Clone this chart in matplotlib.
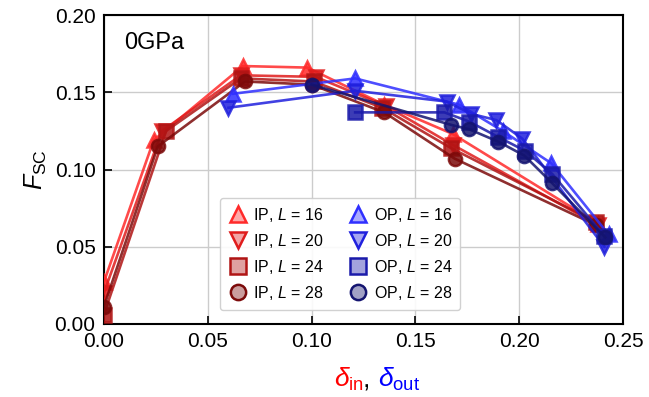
import numpy as np
import matplotlib
matplotlib.use("Agg")
import matplotlib.pyplot as plt
from matplotlib.lines import Line2D
from matplotlib.colors import to_rgba

plt.rcParams["font.family"] = ["Liberation Sans", "DejaVu Sans"]
plt.rcParams["mathtext.fontset"] = "custom"
plt.rcParams["mathtext.rm"] = "Liberation Sans"
plt.rcParams["mathtext.it"] = "Liberation Sans:italic"
plt.rcParams["mathtext.bf"] = "Liberation Sans:bold"

# in-plane (IP) delta_in, F_SC per system size
ip_x_16 = [0.000, 0.024, 0.067, 0.098, 0.135, 0.168, 0.238]
ip_y_16 = [0.027, 0.119, 0.167, 0.166, 0.142, 0.123, 0.065]
ip_x_20 = [0.000, 0.028, 0.066, 0.102, 0.136, 0.168, 0.238]
ip_y_20 = [0.020, 0.125, 0.161, 0.160, 0.141, 0.116, 0.064]
ip_x_24 = [0.000, 0.030, 0.066, 0.101, 0.134, 0.167, 0.237]
ip_y_24 = [0.006, 0.125, 0.159, 0.157, 0.140, 0.114, 0.066]
ip_x_28 = [0.000, 0.026, 0.068, 0.100, 0.135, 0.169, 0.237]
ip_y_28 = [0.011, 0.115, 0.157, 0.155, 0.137, 0.107, 0.064]

# out-of-plane (OP) delta_out, F_SC per system size
op_x_16 = [0.062, 0.121, 0.171, 0.192, 0.2155, 0.243]
op_y_16 = [0.149, 0.159, 0.142, 0.125, 0.104, 0.058]
op_x_20 = [0.060, 0.121, 0.165, 0.177, 0.189, 0.2015, 0.241]
op_y_20 = [0.140, 0.151, 0.144, 0.136, 0.132, 0.120, 0.050]
op_x_24 = [0.121, 0.164, 0.176, 0.190, 0.203, 0.216, 0.241]
op_y_24 = [0.137, 0.137, 0.131, 0.121, 0.112, 0.097, 0.057]
op_x_28 = [0.100, 0.167, 0.176, 0.190, 0.2025, 0.216, 0.2415]
op_y_28 = [0.155, 0.129, 0.126, 0.118, 0.109, 0.091, 0.056]

sizes = [16, 20, 24, 28]
markers = ["^", "v", "s", "o"]
ip_colors = ["#ff2a2a", "#e01c1c", "#b01414", "#7c0a0a"]
op_colors = ["#2f2fff", "#2020dd", "#1a1aaa", "#141470"]

ip_data = [(ip_x_16, ip_y_16), (ip_x_20, ip_y_20), (ip_x_24, ip_y_24), (ip_x_28, ip_y_28)]
op_data = [(op_x_16, op_y_16), (op_x_20, op_y_20), (op_x_24, op_y_24), (op_x_28, op_y_28)]

fig = plt.figure(figsize=(6.49, 3.97), dpi=100)
ax = fig.add_axes([0.160, 0.184, 0.800, 0.778])


def draw(data, colors, tag):
    handles = []
    for (x, y), c, m, L in zip(data, colors, markers, sizes):
        face = to_rgba(c, 0.4)
        ax.plot(x, y, color=c, lw=1.9, alpha=0.85, marker=m, ms=9.5,
                mfc=face, mec=c, mew=1.8, zorder=3)
        handles.append(Line2D([], [], ls="none", marker=m, ms=11, mfc=face,
                              mec=c, mew=1.8, label=f"{tag}, $L$ = {L}"))
    return handles


h_ip = draw(ip_data, ip_colors, "IP")
h_op = draw(op_data, op_colors, "OP")

ax.set_xlim(0, 0.25)
ax.set_ylim(0, 0.20)
ax.set_xticks(np.arange(0, 0.251, 0.05))
ax.set_yticks(np.arange(0, 0.201, 0.05))
ax.xaxis.set_major_formatter(plt.FormatStrFormatter("%.2f"))
ax.yaxis.set_major_formatter(plt.FormatStrFormatter("%.2f"))
ax.tick_params(direction="in", length=6, width=1.2, labelsize=15, pad=6)
ax.grid(color="#cccccc", lw=1.0, zorder=0)
ax.set_axisbelow(True)
for s in ax.spines.values():
    s.set_linewidth(1.5)

ax.set_ylabel(r"$F_{\rm SC}$", fontsize=18, labelpad=4)
ax.text(0.04, 0.91, "0GPa", transform=ax.transAxes, fontsize=17,
        ha="left", va="center")

# multi-coloured x label
t1 = ax.text(0.5, -0.135, r"$\delta_{\rm in}$", color="red", fontsize=19,
             transform=ax.transAxes, ha="right", va="top")
t2 = ax.annotate(", ", xy=(1, 0), xycoords=t1, fontsize=19, color="black",
                 ha="left", va="bottom")
ax.annotate(r"$\delta_{\rm out}$", xy=(1, 0), xycoords=t2, fontsize=19,
            color="blue", ha="left", va="bottom")

leg = ax.legend(handles=h_ip + h_op, ncol=2, loc="lower center",
                bbox_to_anchor=(0.455, 0.02), fontsize=11.5, frameon=True,
                handletextpad=0.35, columnspacing=1.6, labelspacing=0.5,
                borderpad=0.5, handlelength=1.2)
leg.get_frame().set_edgecolor("#cccccc")
leg.get_frame().set_alpha(0.9)

fig.savefig("out.png", dpi=100)
